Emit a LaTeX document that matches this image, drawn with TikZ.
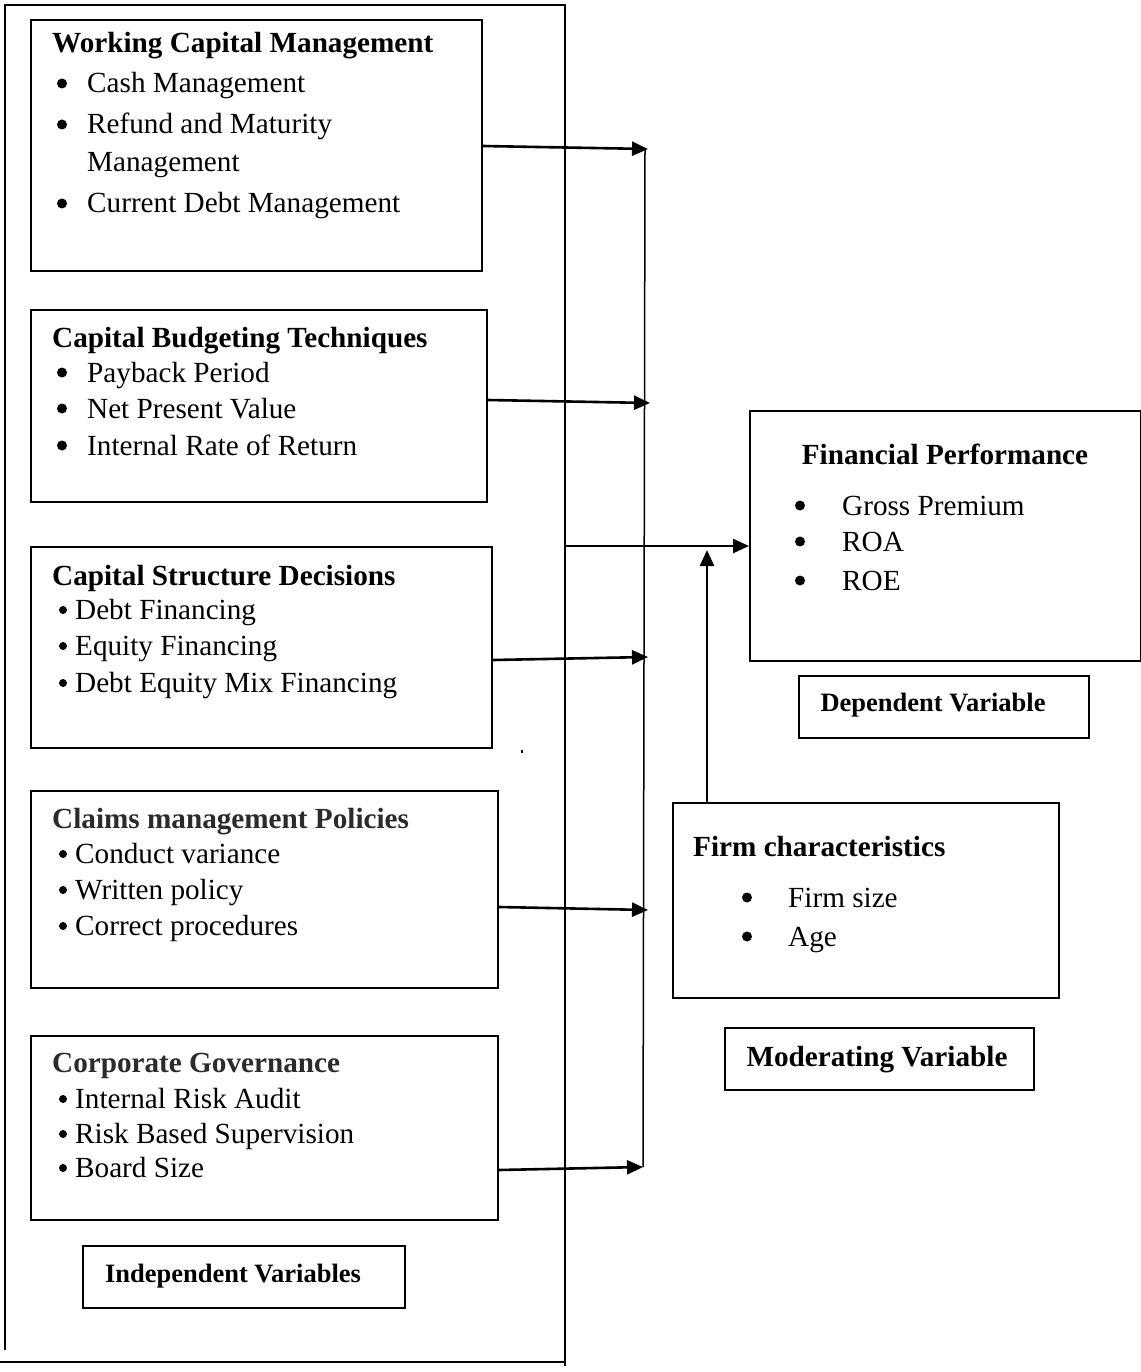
\documentclass[tikz,border=0pt]{standalone}
\usepackage{fontspec}
\setmainfont{Liberation Serif}
\usetikzlibrary{arrows.meta}
\definecolor{titlegrey}{HTML}{2B2B2B}
\begin{document}
\begin{tikzpicture}[x=1pt,y=-1pt,
  box/.style={draw=black,line width=1.8pt,rectangle,inner sep=0pt,anchor=north west},
  outline/.style={draw=black,line width=1.3pt},
  ttl/.style={anchor=base west,inner sep=0pt,font=\fontsize{29.2}{34}\selectfont\bfseries},
  ttlg/.style={ttl,text=titlegrey},
  itm/.style={anchor=base west,inner sep=0pt,font=\fontsize{29.2}{34}\selectfont},
  bul/.style={circle,fill=black,inner sep=0pt,minimum size=10pt,yshift=9.5pt},
  sbul/.style={circle,fill=black,inner sep=0pt,minimum size=8pt,yshift=9pt},
  lbl/.style={anchor=base,inner sep=0pt,font=\fontsize{26.5}{30}\selectfont\bfseries},
  lblb/.style={anchor=base,inner sep=0pt,font=\fontsize{29.2}{34}\selectfont\bfseries},
  arr/.style={line width=2.6pt,-{Triangle[length=16pt,width=14pt]}},
  collector/.style={line width=1.5pt}]
\useasboundingbox (0,0) rectangle (1140,1372);
% outer frame (independent variables)
\coordinate (o1) at (5,1350);
\coordinate (o2) at (5,5);
\coordinate (o3) at (565,5);
\coordinate (o4) at (565,1366);
\coordinate (o5) at (0,1362);
\coordinate (o6) at (565,1362);
\draw[outline] (o1) -- (o2) -- (o3) -- (o4);
\draw[outline] (o5) -- (o6);

% Box 1
\node[box,minimum width=451pt,minimum height=251pt] (wcm) at (30,19) {};
\node[ttl] (wcmt) at (52,53) {Working Capital Management};
\node[bul] (wb1) at (62,93) {};
\node[itm] (wi1) at (87,93) {Cash Management};
\node[bul] (wb2) at (62,134) {};
\node[itm] (wi2) at (87,134) {Refund and Maturity};
\node[itm] (wi3) at (87,172) {Management};
\node[bul] (wb3) at (62,213) {};
\node[itm] (wi4) at (87,213) {Current Debt Management};

% Box 2
\node[box,minimum width=456pt,minimum height=192pt] (cbt) at (30,309) {};
\node[ttl] (cbtt) at (52,347) {Capital Budgeting Techniques};
\node[bul] (cb1) at (62,382) {};
\node[itm] (ci1) at (87,382) {Payback Period};
\node[bul] (cb2) at (62,418) {};
\node[itm] (ci2) at (87,418) {Net Present Value};
\node[bul] (cb3) at (62,455) {};
\node[itm] (ci3) at (87,455) {Internal Rate of Return};

% Box 3
\node[box,minimum width=461pt,minimum height=201pt] (csd) at (30,546) {};
\node[ttl] (csdt) at (52,585) {Capital Structure Decisions};
\node[sbul] (sb1) at (63,619) {};
\node[itm] (si1) at (75,619) {Debt Financing};
\node[sbul] (sb2) at (63,655) {};
\node[itm] (si2) at (75,655) {Equity Financing};
\node[sbul] (sb3) at (63,692) {};
\node[itm] (si3) at (75,692) {Debt Equity Mix Financing};

% Box 4
\node[box,minimum width=467pt,minimum height=197pt] (cmp) at (30,790) {};
\node[ttlg] (cmpt) at (52,828) {Claims management Policies};
\node[sbul] (mb1) at (63,863) {};
\node[itm] (mi1) at (75,863) {Conduct variance};
\node[sbul] (mb2) at (63,899) {};
\node[itm] (mi2) at (75,899) {Written policy};
\node[sbul] (mb3) at (63,935) {};
\node[itm] (mi3) at (75,935) {Correct procedures};

% Box 5
\node[box,minimum width=467pt,minimum height=184pt] (cg) at (30,1035) {};
\node[ttlg] (cgt) at (52,1072) {Corporate Governance};
\node[sbul] (gb1) at (63,1108) {};
\node[itm] (gi1) at (75,1108) {Internal Risk Audit};
\node[sbul] (gb2) at (63,1143) {};
\node[itm] (gi2) at (75,1143) {Risk Based Supervision};
\node[sbul] (gb3) at (63,1177) {};
\node[itm] (gi3) at (75,1177) {Board Size};

% Independent Variables label
\node[box,minimum width=322pt,minimum height=62pt] (iv) at (82,1245) {};
\node[lbl] (ivt) at (233,1282) {Independent Variables};

% stray dot
\fill (520.5,749.5) rectangle (522.5,752.5);

% collector line and arrows
\coordinate (k1) at (648,149);
\coordinate (k2) at (650,403);
\coordinate (k3) at (648,657);
\coordinate (k4) at (648,910);
\coordinate (k5) at (643,1167);
\coordinate (ktop) at (645,149);
\coordinate (kbot) at (643,1167);
\draw[collector] (ktop) -- (kbot);
\draw[arr] (wcm.east |- 0,146) -- (k1);
\draw[arr] (cbt.east |- 0,400) -- (k2);
\draw[arr] (csd.east |- 0,660) -- (k3);
\draw[arr] (cmp.east |- 0,907) -- (k4);
\draw[arr] (cg.east |- 0,1170) -- (k5);

% Dependent variable
\node[box,minimum width=391pt,minimum height=250pt] (fp) at (749,410) {};
\node[ttl,anchor=base] (fpt) at (945,464) {Financial Performance};
\node[bul] (fb1) at (800,515) {};
\node[itm] (fi1) at (842,515) {Gross Premium};
\node[bul] (fb2) at (800,551) {};
\node[itm] (fi2) at (842,551) {ROA};
\node[bul] (fb3) at (800,590) {};
\node[itm] (fi3) at (842,590) {ROE};
\node[box,minimum width=290pt,minimum height=62pt] (dv) at (798,675) {};
\node[lbl] (dvt) at (933,711) {Dependent Variable};

\draw[arr] (o3 |- 0,546) -- (fp.west |- 0,546);

% Moderating variable
\node[box,minimum width=386pt,minimum height=195pt] (fc) at (672,802) {};
\node[ttl] (fct) at (693,856) {Firm characteristics};
\node[bul] (hb1) at (747,907) {};
\node[itm] (hi1) at (788,907) {Firm size};
\node[bul] (hb2) at (747,946) {};
\node[itm] (hi2) at (788,946) {Age};
\node[box,minimum width=309pt,minimum height=62pt] (mv) at (724,1027) {};
\node[lblb] (mvt) at (877,1066) {Moderating Variable};

\coordinate (up) at (707,550);
\draw[arr] (fc.north -| 707,0) -- (up);
\end{tikzpicture}
\end{document}
